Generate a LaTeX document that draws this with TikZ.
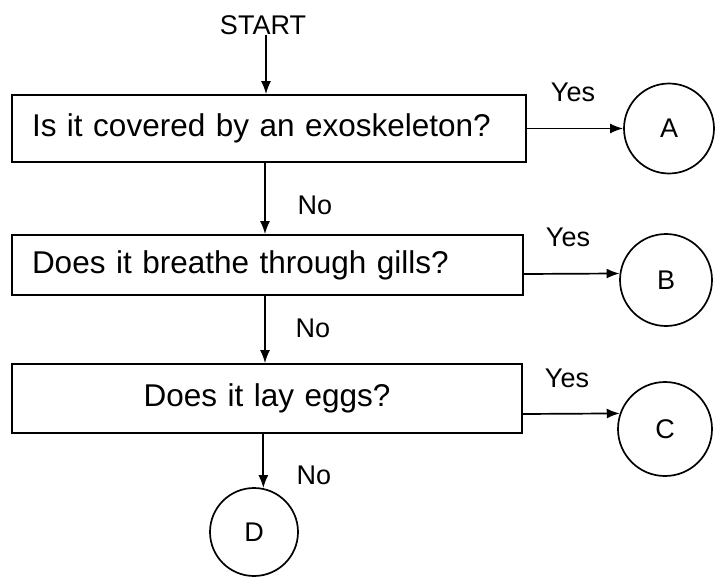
\documentclass[tikz,border=0pt]{standalone}
\usepackage{fontspec}
\setmainfont{Liberation Sans}
\usetikzlibrary{arrows.meta}
\begin{document}
\begin{tikzpicture}[x=1pt,y=-1pt,
  line width=1.7pt,
  qbox/.style={draw, rectangle, inner xsep=20pt, inner ysep=0pt,
    font=\fontsize{31.5}{36}\selectfont},
  endpt/.style={draw, circle, inner sep=0pt, font=\fontsize{27}{30}\selectfont},
  lbl/.style={inner sep=0pt, font=\fontsize{27}{30}\selectfont},
  arr/.style={-{Latex[length=13pt,width=10pt]}}]
\useasboundingbox (0,0) rectangle (715,576);

% start label and the three questions
\node[lbl] (start) at (263,25) {START};
\node[qbox, minimum width=514pt, minimum height=67pt, text width=474pt, align=left]
  (b1) at (269,128.5) {Is it covered by an exoskeleton?};
\node[qbox, minimum width=511pt, minimum height=60pt, text width=471pt, align=left]
  (b2) at (267.5,265) {Does it breathe through gills?};
\node[qbox, minimum width=510pt, minimum height=69pt, text width=470pt, align=center]
  (b3) at (267,398.5) {Does it lay eggs?};

% outcomes
\node[endpt, minimum size=90pt] (A) at (669,128.5) {A};
\node[endpt, minimum size=92pt] (B) at (666,280) {B};
\node[endpt, minimum size=94pt] (C) at (665,429) {C};
\node[endpt, minimum size=88pt] (D) at (254,532) {D};

% vertical spine of the "No" branch
\coordinate (spine) at (265,0);

\draw[arr] ([xshift=3pt]start.south) -- ([xshift=3pt]start.south |- b1.north);
\draw[arr] (b1.south -| spine) -- (b2.north -| spine);
\draw[arr] (b2.south -| spine) -- (b3.north -| spine);
\draw[arr] (b3.south -| D.78) -- (D.78);

\draw[arr] (b1.east) -- (A.west);
\draw[arr] ([yshift=-9pt]b2.east) -- (B.172.5);
\draw[arr] ([yshift=-15.5pt]b3.east) -- (C.161);

% branch labels
\node[lbl] (yes1) at (573,92) {Yes};
\node[lbl] (yes2) at (568,237) {Yes};
\node[lbl] (yes3) at (567,378) {Yes};
\node[lbl] (no1) at (315,205) {No};
\node[lbl] (no2) at (313,328) {No};
\node[lbl] (no3) at (314,475) {No};
\end{tikzpicture}
\end{document}
